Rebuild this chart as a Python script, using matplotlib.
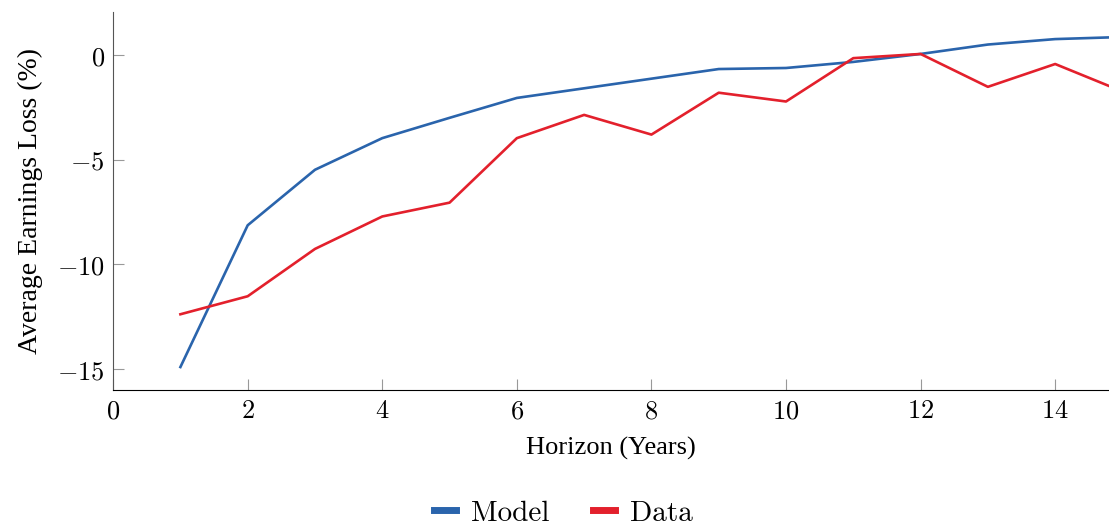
import numpy as np
from matplotlib import pyplot as plt
from matplotlib.ticker import FuncFormatter

plt.rcParams['mathtext.fontset'] = 'cm'

horizon = [1, 2, 3, 4, 5, 6, 7, 8, 9, 10, 11, 12, 13, 14, 15]
model = [-14.9, -8.13, -5.48, -3.97, -3.0, -2.05, -1.59, -1.13, -0.67, -0.62,
         -0.33, 0.05, 0.5, 0.76, 0.86]
data = [-12.38, -11.52, -9.26, -7.71, -7.05, -3.97, -2.86, -3.8, -1.8, -2.22,
        -0.15, 0.05, -1.52, -0.43, -1.74]

blue = '#2a64ac'
red = '#e3202c'

fig = plt.figure(figsize=(11.09, 5.25), dpi=100)
ax = fig.add_axes([0.102, 0.257, 0.898, 0.72])

ax.plot(horizon, model, color=blue, lw=1.9, label='Model')
ax.plot(horizon, data, color=red, lw=1.9, label='Data')

ax.set_xlim(0, 14.8)
ax.set_ylim(-16.0, 2.05)
ax.set_xticks([0, 2, 4, 6, 8, 10, 12, 14])
ax.set_yticks([-15, -10, -5, 0])

# tick labels rendered with Computer Modern via mathtext
fmt = FuncFormatter(lambda v, pos: r'$%d$' % v)
ax.xaxis.set_major_formatter(fmt)
ax.yaxis.set_major_formatter(fmt)
ax.tick_params(direction='in', length=8, width=0.8, color='#999999',
               labelsize=19, pad=6)

for side in ['top', 'right']:
    ax.spines[side].set_visible(False)
ax.spines['left'].set_color('#555555')
ax.spines['bottom'].set_color('black')

ax.set_xlabel('Horizon (Years)', family='Liberation Serif', fontsize=19, labelpad=9)
ax.set_ylabel('Average Earnings Loss (%)', family='Liberation Serif', fontsize=20,
              labelpad=10)

fig.legend(loc='center', bbox_to_anchor=(0.508, 0.022), ncol=2, frameon=False,
           prop={'family': 'cmr10', 'size': 21}, handlelength=0.75,
           columnspacing=1.5, handletextpad=0.5)
for line in fig.legends[0].get_lines():
    line.set_linewidth(5)

plt.savefig('out.png', dpi=100)
